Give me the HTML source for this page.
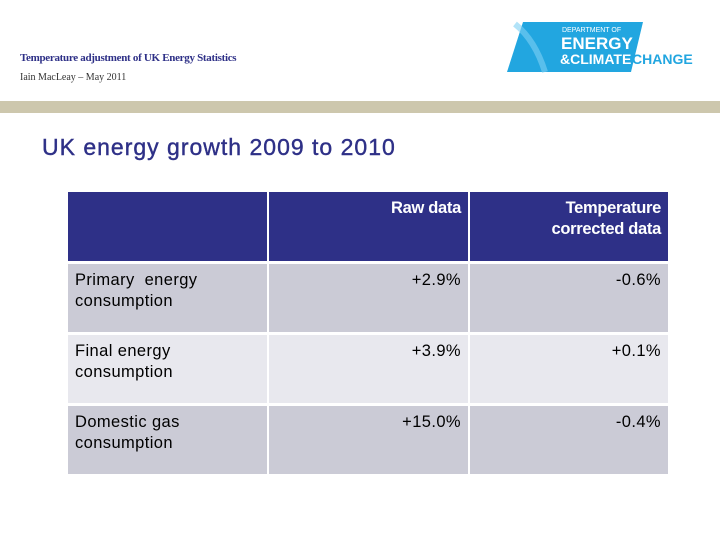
<!DOCTYPE html>
<html><head><meta charset="utf-8"><style>
body{margin:0;width:720px;height:540px;background:#fff;position:relative;overflow:hidden;font-family:"Liberation Sans",sans-serif}
.abs{position:absolute}
.cell{position:absolute;box-sizing:border-box;padding:6px 7px;font-size:16.5px;line-height:21px;color:#000;letter-spacing:0.4px;white-space:nowrap}
.h{background:#2e3087;color:#fff;text-align:right;letter-spacing:-0.3px;font-weight:bold}
.r{text-align:right}
.g1{background:#cbcbd6}.g2{background:#e8e8ee}
</style></head><body>
<div class="abs" style="left:20px;top:52px;font-family:'Liberation Serif',serif;font-size:11px;font-weight:bold;color:#2e3087;letter-spacing:-0.3px">Temperature adjustment of UK Energy Statistics</div>
<div class="abs" style="left:20px;top:72px;font-family:'Liberation Serif',serif;font-size:10px;color:#333">Iain MacLeay – May 2011</div>
<svg class="abs" style="left:505px;top:20px" width="195" height="55">
<polygon points="18,2 138,2 126,52 2,52" fill="#22a6e0"/>
<path d="M10,4 Q30,20 40,52" stroke="#7fd0f4" stroke-width="6" fill="none" opacity="0.6"/>
<text x="57" y="12" font-family="Liberation Sans" font-size="7" fill="#fff">DEPARTMENT OF</text>
<text x="56" y="29" font-family="Liberation Sans" font-weight="bold" font-size="17" fill="#fff">ENERGY</text>
<text x="55" y="44" font-family="Liberation Sans" font-weight="bold" font-size="14" fill="#fff">&amp;CLIMATE</text>
<text x="127" y="44" font-family="Liberation Sans" font-weight="bold" font-size="14" fill="#22a6e0">CHANGE</text>
</svg>
<div class="abs" style="left:0;top:101px;width:720px;height:12px;background:#cdc7ad"></div>
<div class="abs" style="left:42px;top:134px;font-size:23px;color:#2e3087;letter-spacing:1px;-webkit-text-stroke:0.4px #2e3087">UK energy growth 2009 to 2010</div>

<div class="cell h" style="left:68px;top:192px;width:199px;height:69px"></div>
<div class="cell h" style="left:269px;top:192px;width:199px;height:69px">Raw data</div>
<div class="cell h" style="left:470px;top:192px;width:198px;height:69px">Temperature<br>corrected data</div>

<div class="cell g1" style="left:68px;top:264px;width:199px;height:68px">Primary&nbsp; energy<br>consumption</div>
<div class="cell g1 r" style="left:269px;top:264px;width:199px;height:68px">+2.9%</div>
<div class="cell g1 r" style="left:470px;top:264px;width:198px;height:68px">-0.6%</div>

<div class="cell g2" style="left:68px;top:335px;width:199px;height:68px">Final energy<br>consumption</div>
<div class="cell g2 r" style="left:269px;top:335px;width:199px;height:68px">+3.9%</div>
<div class="cell g2 r" style="left:470px;top:335px;width:198px;height:68px">+0.1%</div>

<div class="cell g1" style="left:68px;top:406px;width:199px;height:68px">Domestic gas<br>consumption</div>
<div class="cell g1 r" style="left:269px;top:406px;width:199px;height:68px">+15.0%</div>
<div class="cell g1 r" style="left:470px;top:406px;width:198px;height:68px">-0.4%</div>
</body></html>
